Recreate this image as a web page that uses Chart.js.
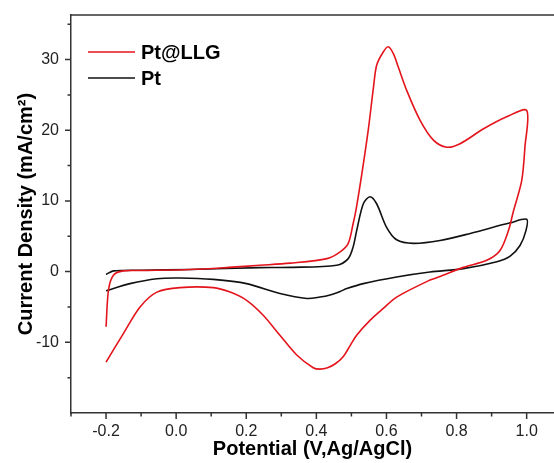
<!DOCTYPE html>
<html>
<head>
<meta charset="utf-8">
<title>Cyclic voltammetry: Pt@LLG vs Pt</title>
<script src="https://cdn.jsdelivr.net/npm/chart.js@4.4.0/dist/chart.umd.js"></script>
<style>
    html, body { margin: 0; padding: 0; background: #ffffff; }
    #cv-wrap { position: relative; width: 554px; height: 463px; }
</style>
</head>
<body>
<div id="cv-wrap"><canvas id="cv-chart"></canvas></div>
<script>
/**
 * CV curves (potential in V vs Ag/AgCl, current density in mA/cm2)
 */
const seriesNames = ['Pt@LLG', 'Pt'];

const pllgPotential = [-0.2, -0.193, -0.179, -0.151, -0.1, 0.04, 0.15, 0.239, 0.325, 0.43, 0.468, 0.491, 0.505, 0.513,
    0.53, 0.548, 0.563, 0.572, 0.59, 0.605, 0.62, 0.634, 0.658, 0.696, 0.734, 0.772, 0.81, 0.877, 0.943, 1.0,
    0.995, 0.986, 0.962, 0.948, 0.924, 0.886, 0.819, 0.753, 0.724, 0.629, 0.591, 0.553, 0.515, 0.496, 0.477, 0.455, 0.432, 0.41,
    0.391, 0.344, 0.296, 0.249, 0.201, 0.154, 0.106, 0.011, -0.055, -0.103, -0.151, -0.2];
const pllgCurrent = [-7.8, -2.6, -0.5, 0.1, 0.15, 0.3, 0.6, 0.9, 1.2, 1.84, 2.8, 4.0, 6.8, 8.7,
    13.9, 20, 26.1, 29.2, 31.0, 31.8, 30.8, 28.9, 25.6, 21.4, 18.6, 17.6, 18.1, 20.2, 21.9, 22.8,
    17.6, 12.9, 8.5, 5.8, 3.0, 1.6, 0.6, -0.7, -1.2, -3.6, -5.2, -6.9, -9.0, -10.5, -12.0, -13.0, -13.6, -13.8,
    -13.6, -11.8, -9.0, -6.2, -4.06, -2.9, -2.26, -2.26, -2.9, -5.0, -8.8, -12.8];

const ptPotential = [-0.2, -0.179, -0.1, 0.04, 0.239, 0.325, 0.458, 0.491, 0.505, 0.515, 0.534, 0.553, 0.572,
    0.6, 0.629, 0.677, 0.753, 0.839, 0.953, 1.0, 0.998, 0.981, 0.953, 0.915, 0.819, 0.724, 0.629, 0.534,
    0.487, 0.468, 0.439, 0.41, 0.373, 0.296, 0.201, 0.106, 0.011, -0.055, -0.132, -0.2];
const ptCurrent = [-0.4, 0.1, 0.2, 0.3, 0.57, 0.6, 0.9, 1.84, 3.5, 5.8, 9.6, 10.6, 9.6,
    6.3, 4.5, 4.0, 4.4, 5.4, 6.9, 7.4, 5.8, 3.7, 2.2, 1.4, 0.42, -0.05, -0.76, -1.7,
    -2.4, -2.8, -3.3, -3.6, -3.8, -3.1, -1.7, -1.1, -0.9, -1.0, -1.7, -2.7];

/**
 * Axis ticks (labelled majors and unlabelled minors)
 */
const xMajorTicks = [-0.2, 0.0, 0.2, 0.4, 0.6, 0.8, 1.0];
const xMinorTicks = [-0.3, -0.1, 0.1, 0.3, 0.5, 0.7, 0.9];
const yMajorTicks = [-10, 0, 10, 20, 30];
const yMinorTicks = [-15, -5, 5, 15, 25, 35];

const seriesColors = ['#e4141c', '#111111'];
const axisColor = '#333333';
const fontFamily = '"Liberation Sans", Arial, Helvetica, sans-serif';

function toPoints(xs, ys) {
    return xs.map((x, i) => ({ x: x, y: ys[i] }));
}

/**
 * Frame top line, outward tick marks and the in-plot legend
 */
const frameAndTicks = {
    id: 'frameAndTicks',
    afterDraw(chart) {
        const ctx = chart.ctx;
        const area = chart.chartArea;
        const xs = chart.scales.x;
        const ys = chart.scales.y;

        ctx.save();
        ctx.strokeStyle = axisColor;
        ctx.lineWidth = 1.5;

        // top border
        ctx.beginPath();
        ctx.moveTo(area.left, area.top);
        ctx.lineTo(area.right, area.top);
        ctx.stroke();

        ctx.beginPath();
        xMajorTicks.forEach(v => {
            const px = xs.getPixelForValue(v);
            ctx.moveTo(px, area.bottom);
            ctx.lineTo(px, area.bottom + 6);
        });
        xMinorTicks.forEach(v => {
            const px = xs.getPixelForValue(v);
            ctx.moveTo(px, area.bottom);
            ctx.lineTo(px, area.bottom + 3.5);
        });
        yMajorTicks.forEach(v => {
            const py = ys.getPixelForValue(v);
            ctx.moveTo(area.left, py);
            ctx.lineTo(area.left - 6, py);
        });
        yMinorTicks.forEach(v => {
            const py = ys.getPixelForValue(v);
            ctx.moveTo(area.left, py);
            ctx.lineTo(area.left - 3.5, py);
        });
        ctx.stroke();

        // legend
        ctx.font = 'bold 20px ' + fontFamily;
        ctx.textBaseline = 'middle';
        ctx.textAlign = 'left';
        chart.data.datasets.forEach((ds, i) => {
            const y = area.top + 37 + i * 26;
            const x0 = area.left + 17;
            ctx.strokeStyle = ds.borderColor;
            ctx.lineWidth = 1.5;
            ctx.beginPath();
            ctx.moveTo(x0, y);
            ctx.lineTo(x0 + 47, y);
            ctx.stroke();
            ctx.fillStyle = '#000000';
            ctx.fillText(ds.label, x0 + 53, y + 1);
        });
        ctx.restore();
    }
};

function createChart() {
    const ctx = document.getElementById('cv-chart').getContext('2d');

    return new Chart(ctx, {
        type: 'scatter',
        data: {
            datasets: [
                {
                    label: seriesNames[0],
                    data: toPoints(pllgPotential, pllgCurrent),
                    borderColor: seriesColors[0],
                    backgroundColor: seriesColors[0],
                    showLine: true,
                    borderWidth: 1.6,
                    pointRadius: 0,
                    tension: 0.3
                },
                {
                    label: seriesNames[1],
                    data: toPoints(ptPotential, ptCurrent),
                    borderColor: seriesColors[1],
                    backgroundColor: seriesColors[1],
                    showLine: true,
                    borderWidth: 1.6,
                    pointRadius: 0,
                    tension: 0.3
                }
            ]
        },
        options: {
            responsive: true,
            maintainAspectRatio: false,
            animation: false,
            layout: { padding: { top: 15, right: 0, bottom: 0, left: 0 } },
            plugins: {
                legend: { display: false },
                tooltip: { enabled: false }
            },
            scales: {
                x: {
                    type: 'linear',
                    min: -0.3,
                    max: 1.078,
                    afterBuildTicks: scale => { scale.ticks = xMajorTicks.map(v => ({ value: v })); },
                    afterFit: scale => {
                        scale.height = 50;
                        scale.paddingLeft = 0;
                        scale.paddingRight = 0;
                    },
                    grid: { display: true, drawOnChartArea: false, drawTicks: false },
                    border: { display: true, color: axisColor, width: 1.5 },
                    ticks: {
                        padding: 9,
                        color: '#222222',
                        font: { family: fontFamily, size: 16 },
                        callback: v => v.toFixed(1)
                    },
                    title: {
                        display: true,
                        text: 'Potential (V,Ag/AgCl)',
                        color: '#000000',
                        font: { family: fontFamily, size: 20, weight: 'bold' },
                        padding: { top: 0, bottom: 2 }
                    }
                },
                y: {
                    type: 'linear',
                    min: -20,
                    max: 36.3,
                    afterBuildTicks: scale => { scale.ticks = yMajorTicks.map(v => ({ value: v })); },
                    afterFit: scale => {
                        scale.width = 71;
                        scale.paddingTop = 0;
                        scale.paddingBottom = 0;
                    },
                    grid: { display: true, drawOnChartArea: false, drawTicks: false },
                    border: { display: true, color: axisColor, width: 1.5 },
                    ticks: {
                        padding: 12,
                        color: '#222222',
                        font: { family: fontFamily, size: 16 },
                        callback: v => String(v)
                    },
                    title: {
                        display: true,
                        text: 'Current Density (mA/cm²)',
                        color: '#000000',
                        font: { family: fontFamily, size: 20, weight: 'bold' },
                        padding: { top: 14, bottom: 0 }
                    }
                }
            }
        },
        plugins: [frameAndTicks]
    });
}

createChart();
</script>
</body>
</html>
